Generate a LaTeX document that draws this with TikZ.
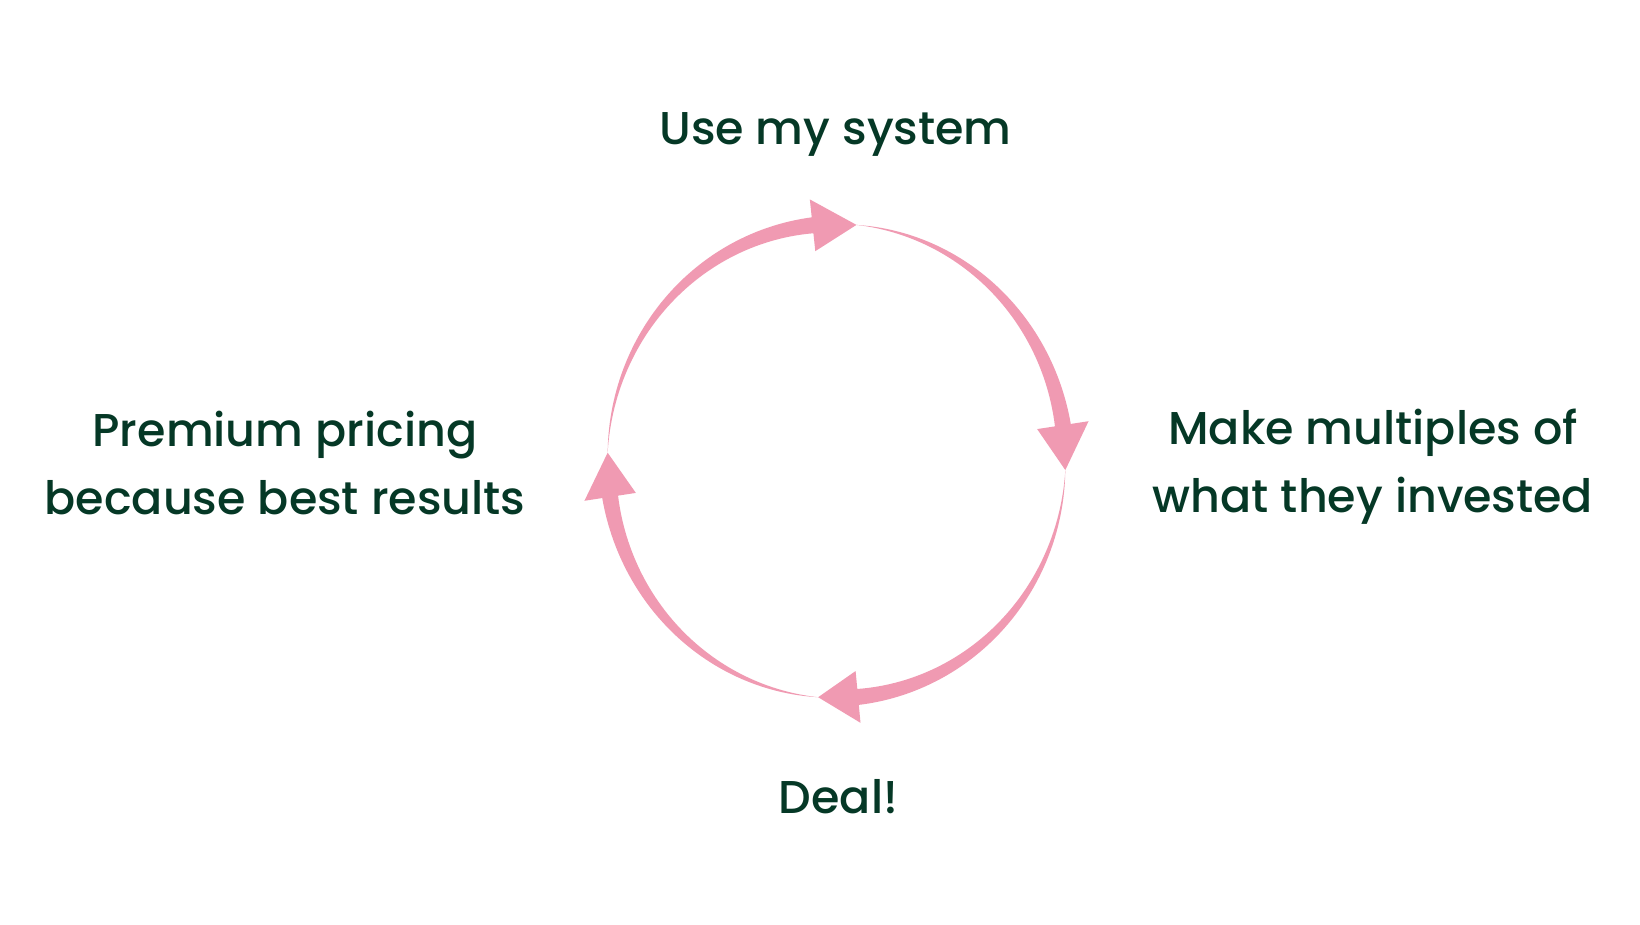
\documentclass[tikz,border=0pt]{standalone}
\usepackage{fontspec}
\setmainfont{Poppins}[UprightFont={* Medium}]
\definecolor{txtgreen}{HTML}{053826}
\definecolor{arrowpink}{HTML}{F09AB2}
\newcommand\cx{836.5}
\newcommand\cy{463}
\newcommand\rx{229}
\newcommand\ry{237}
\newcommand\hw{8}
\newcommand\hh{26}
\newcommand\tarrow[3]{%
  \fill[arrowpink] plot[domain=#1:#2,samples=60] ({\cx+(\rx+\hw*(#1-\x)/(#1-#2))*cos(\x)},{\cy+(\ry+\hw*(#1-\x)/(#1-#2))*sin(\x)})
  -- ({\cx+(\rx+\hh)*cos(#2)},{\cy+(\ry+\hh)*sin(#2)})
  -- ({\cx+\rx*cos(#3)},{\cy+\ry*sin(#3)})
  -- ({\cx+(\rx-\hh)*cos(#2)},{\cy+(\ry-\hh)*sin(#2)})
  -- plot[domain=#2:#1,samples=60] ({\cx+(\rx-\hw*(#1-\x)/(#1-#2))*cos(\x)},{\cy+(\ry-\hw*(#1-\x)/(#1-#2))*sin(\x)})
  -- cycle;}
\tikzset{lbl/.style={text=txtgreen, inner sep=0pt, anchor=base, align=center,
  font=\fontsize{46}{68}\selectfont}}
\begin{document}
\begin{tikzpicture}[x=1pt,y=1pt]
\useasboundingbox[fill=white] (0,0) rectangle (1640,924);
\tarrow{178}{96}{85}
\tarrow{85}{8.7}{-2.2}
\tarrow{-2.2}{-84.6}{-94.6}
\tarrow{265.4}{188.7}{178}
\node[lbl] (top) at (835.5,779) {Use my system};
\node[lbl] (left) at (285,409) {Premium pricing\\because best results};
\node[lbl] (right) at (1373,411) {Make multiples of\\what they invested};
\node[lbl] (bottom) at (838.5,111) {Deal!};
\end{tikzpicture}
\end{document}
